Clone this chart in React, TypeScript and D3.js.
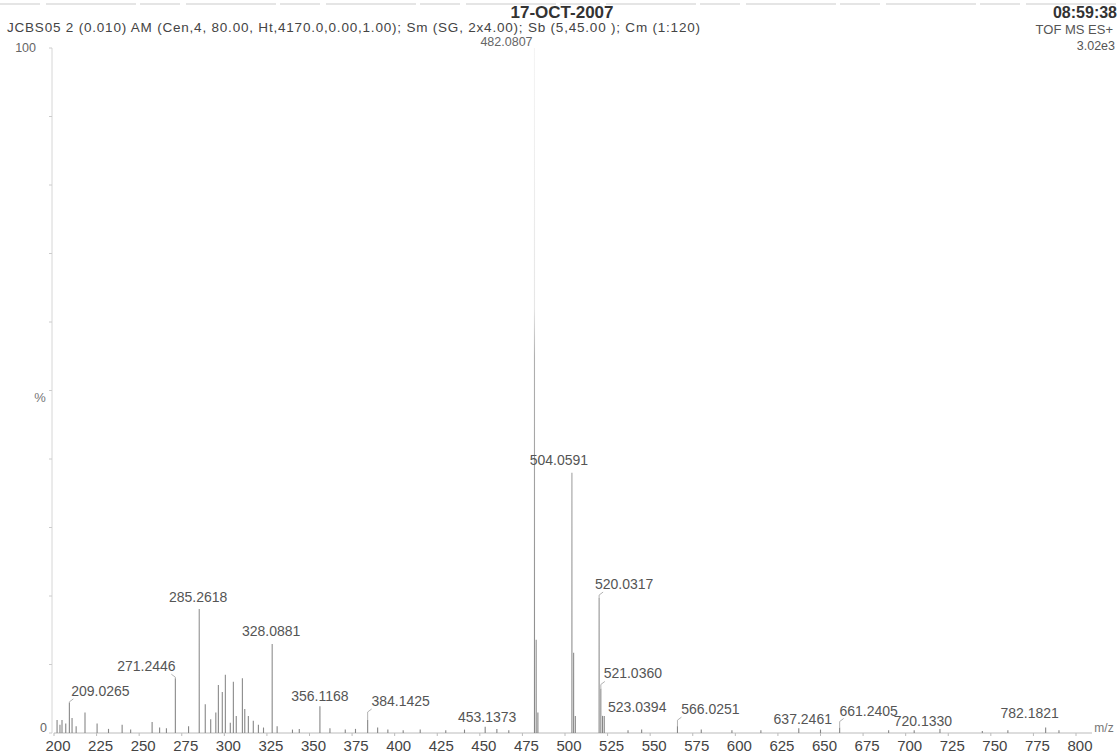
import React from 'react';
import * as d3 from 'd3';

// labelled peaks (m/z, % of base peak)
const labelMz = [482.0807, 504.0591, 520.0317, 285.2618, 328.0881, 271.2446, 209.0265, 356.1168, 384.1425, 453.1373, 521.036, 523.0394, 566.0251, 637.2461, 661.2405, 720.133, 782.1821];
const labelPct = [100, 38, 19.7, 18.1, 13, 8, 4.4, 3.9, 1.9, 0.9, 6.5, 2.5, 1, 0.7, 0.8, 0.6, 0.8];

// unlabelled peaks / baseline noise
const minorMz = [201.8, 203.5, 204.7, 206.9, 210.6, 213, 218.2, 225.3, 232, 240, 245, 257.6, 262, 266, 279, 288.8, 292, 295, 296.5, 298.8, 300.6, 303.5, 305.3, 307, 310.6, 312, 314.1, 317, 320, 323, 331, 340, 344, 362, 371, 377, 390, 396, 405, 415, 430, 441, 460, 467, 483.08, 484.08, 505.06, 506.06, 522.04, 537, 545, 580, 598, 615, 650, 690, 705, 745, 760, 790];
const minorPct = [1.9, 1.2, 1.9, 1.4, 2.2, 1.0, 3.0, 1.4, 0.6, 1.2, 0.5, 1.6, 0.8, 0.7, 1.0, 4.2, 2.0, 3.0, 7.0, 6.0, 8.5, 1.5, 7.5, 2.5, 8.0, 3.5, 2.5, 1.8, 1.2, 0.8, 1.0, 0.5, 0.6, 0.7, 0.5, 0.6, 0.8, 0.5, 0.4, 0.5, 0.4, 0.5, 0.6, 0.4, 13.6, 3.0, 11.7, 2.5, 2.5, 0.4, 0.5, 0.5, 0.4, 0.4, 0.5, 0.4, 0.4, 0.3, 0.4, 0.4];

const xTickValues = [200, 225, 250, 275, 300, 325, 350, 375, 400, 425, 450, 475, 500, 525, 550, 575, 600, 625, 650, 675, 700, 725, 750, 775, 800];
const yTickValues = [0, 10, 20, 30, 40, 50, 60, 70, 80, 90, 100];

// label placement (dx from peak, dy of baseline from peak top)
const labelNudge: Record<string, [number, number]> = {
  '482.0807': [-28, -3],
  '504.0591': [-13, -8],
  '520.0317': [25, -9],
  '285.2618': [-1, -7],
  '328.0881': [-1, -8],
  '271.2446': [-29, -7],
  '209.0265': [31, -7],
  '356.1168': [0, -5],
  '384.1425': [33, -14],
  '453.1373': [2, -5],
  '521.0360': [32, -10],
  '523.0394': [33, -4],
  '566.0251': [33, -12],
  '637.2461': [4, -4],
  '661.2405': [29, -12],
  '720.1330': [-17, -3],
  '782.1821': [-16, -10],
};

const W = 1119;
const H = 754;
const font = '"Liberation Sans", Arial, sans-serif';

const App: React.FC = () => {
  const x = d3.scaleLinear().domain([200, 800]).range([54, 1076]);
  const y = d3.scaleLinear().domain([0, 100]).range([733, 48]);

  const sticks = [
    ...labelMz.map((m, i) => ({ m, p: labelPct[i] })),
    ...minorMz.map((m, i) => ({ m, p: minorPct[i] })),
  ];

  return (
    <svg width={W} height={H} style={{ position: 'absolute', left: 0, top: 0, background: '#fff' }} fontFamily={font}>
      <defs>
        <linearGradient id="fade" gradientUnits="userSpaceOnUse" x1="0" y1={y(100)} x2="0" y2={y(0)}>
          <stop offset="0" stopColor="#f4f4f4" />
          <stop offset="0.38" stopColor="#e6e6e6" />
          <stop offset="0.45" stopColor="#b0b0b0" />
          <stop offset="1" stopColor="#858585" />
        </linearGradient>
      </defs>

      {/* scan edge */}
      <line x1={0} x2={W} y1={4} y2={4} stroke="#ddd" strokeWidth={1.5} strokeDasharray="40 6 90 4" />

      {/* header */}
      <text x={562} y={18} textAnchor="middle" fontSize={17} fontWeight="bold" fill="#333">17-OCT-2007</text>
      <text x={1117} y={18} textAnchor="end" fontSize={16} fontWeight="bold" fill="#333">08:59:38</text>
      <text x={7} y={32} fontSize={13.5} fill="#444" textLength={693} lengthAdjust="spacing">JCBS05 2 (0.010) AM (Cen,4, 80.00, Ht,4170.0,0.00,1.00); Sm (SG, 2x4.00); Sb (5,45.00 ); Cm (1:120)</text>
      <text x={1113} y={34} textAnchor="end" fontSize={13} fill="#555">TOF MS ES+</text>
      <text x={1115} y={50} textAnchor="end" fontSize={12.5} fill="#555">3.02e3</text>

      {/* y axis */}
      <line x1={52} x2={52} y1={y(100)} y2={y(0)} stroke="#d6d6d6" />
      {yTickValues.map(t => (
        <line key={t} x1={49} x2={52} y1={y(t)} y2={y(t)} stroke="#cccccc" />
      ))}
      <text x={36} y={y(100) + 4} textAnchor="end" fontSize={12.5} fill="#666">100</text>
      <text x={47} y={y(0) - 1} textAnchor="end" fontSize={12.5} fill="#666">0</text>
      <text x={40} y={402} textAnchor="middle" fontSize={13} fill="#777">%</text>

      {/* x axis */}
      <line x1={x(200)} x2={x(800) + 16} y1={y(0)} y2={y(0)} stroke="#bbb" />
      {xTickValues.map(t => (
        <g key={t}>
          <line x1={x(t)} x2={x(t)} y1={y(0)} y2={y(0) + 3} stroke="#bbb" />
          <text x={x(t) + 4} y={751} textAnchor="middle" fontSize={15} fill="#444">{t}</text>
        </g>
      ))}
      <text x={1104} y={732} textAnchor="middle" fontSize={12} fill="#777">m/z</text>

      {/* spectrum */}
      {sticks.map((s, i) => (
        <line key={i} x1={x(s.m)} x2={x(s.m)} y1={y(0)} y2={y(s.p)} stroke="url(#fade)" strokeWidth={1.1} />
      ))}

      {/* peak labels */}
      {labelMz.map((m, i) => {
        const key = m.toFixed(4);
        const [dx, dy] = labelNudge[key] || [0, -7];
        const px = x(m);
        const top = y(labelPct[i]);
        const lx = px + dx;
        const ly = i === 0 ? top - 2 : top + dy;
        const lead = dx > 15 || (dx < -15 && labelPct[i] > 1.5);
        return (
          <g key={key}>
            {lead && i > 0 && top - ly > 4 && (
              <path d={`M${px + Math.sign(dx) * 4},${ly + 3} L${px},${ly + 6} L${px},${top}`} fill="none" stroke="#aaa" strokeWidth={0.9} />
            )}
            <text x={lx} y={ly} textAnchor="middle" fontSize={i === 0 ? 12.5 : 14} fill={i === 0 ? '#666' : '#555'}>{key}</text>
          </g>
        );
      })}
    </svg>
  );
};

export default App;
